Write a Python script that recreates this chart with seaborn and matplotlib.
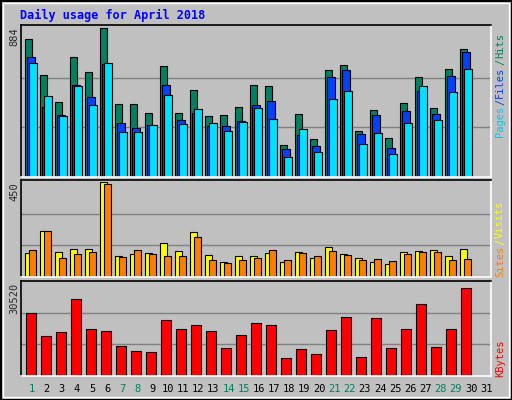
import matplotlib
matplotlib.use("Agg")
import matplotlib.pyplot as plt
import seaborn as sns
import numpy as np
import pandas as pd
from matplotlib.patches import Rectangle

sns.set_style("white")
plt.rcParams["font.family"] = ["DejaVu Sans Mono"]

days = list(range(1, 32))
weekend_days = [1, 7, 8, 14, 15, 21, 22, 28, 29]
hits = [818, 608, 446, 710, 620, 884, 434, 434, 380, 656, 380, 518, 362, 368, 416,
        548, 542, 188, 374, 224, 632, 662, 272, 398, 230, 440, 596, 410, 638, 758, 0]
files = [710, 416, 368, 548, 476, 668, 320, 290, 308, 548, 338, 380, 302, 302, 332,
         428, 452, 164, 248, 182, 596, 632, 254, 368, 170, 392, 512, 374, 602, 740, 0]
pages = [674, 482, 362, 542, 428, 674, 266, 266, 308, 488, 314, 404, 320, 272, 326,
         410, 344, 116, 284, 146, 464, 512, 194, 260, 134, 320, 542, 338, 506, 638, 0]
visits = [113, 220, 118, 133, 133, 449, 99, 109, 113, 162, 123, 211, 104, 70, 99,
          99, 113, 70, 118, 89, 143, 109, 89, 70, 60, 118, 123, 128, 99, 133, 0]
sites = [128, 220, 89, 109, 118, 439, 94, 128, 109, 99, 99, 191, 79, 65, 79,
         89, 128, 79, 113, 99, 123, 104, 79, 84, 75, 109, 118, 118, 79, 84, 0]
kbytes = [21830, 13810, 15150, 26850, 16150, 15480, 10470, 8800, 8470, 19490, 16150,
          17820, 15480, 9800, 14150, 18490, 17820, 6130, 9470, 7800, 15820, 20500,
          6460, 20160, 9800, 16150, 24840, 10140, 16150, 30520, 0]
max_hits, max_visits, max_kb = 884, 450, 30520

W, H = 512, 400
BG = "#C0C0C0"
fig = plt.figure(figsize=(W / 100, H / 100), dpi=100, facecolor=BG)

def px_axes(x0, y0, x1, y1):
    return fig.add_axes([x0 / W, 1 - y1 / H, (x1 - x0) / W, (y1 - y0) / H])

def style_ax(ax, top):
    ax.set_facecolor(BG)
    ax.set_xlim(-0.71, 30.62)
    ax.set_ylim(0, top)
    ax.set_xticks([])
    ax.set_yticks([])
    for s in ["left", "top"]:
        ax.spines[s].set_color("black")
    for s in ["right", "bottom"]:
        ax.spines[s].set_color("white")
    for sp in ax.spines.values():
        sp.set_linewidth(1.2)

x = np.arange(31)
ek = dict(edgecolor="black", linewidth=0.8)

# hits / files / pages
ax1 = px_axes(20.7, 25, 490.7, 177)
style_ax(ax1, max_hits * 1.02)
for g in (max_hits / 3, 2 * max_hits / 3):
    ax1.axhline(g, color="#808080", lw=1, zorder=0)
ax1.bar(x - 0.19, hits, width=0.47, color="#008060", **ek)
ax1.bar(x - 0.02, files, width=0.5, color="#0040FF", **ek)
ax1.bar(x + 0.11, pages, width=0.5, color="#00E0FF", **ek)

# visits / sites
ax2 = px_axes(20.7, 180, 490.7, 277)
style_ax(ax2, max_visits * 1.02)
for g in (max_visits / 3, 2 * max_visits / 3):
    ax2.axhline(g, color="#808080", lw=1, zorder=0)
ax2.bar(x - 0.17, visits, width=0.47, color="#FFFF00", **ek)
ax2.bar(x + 0.1, sites, width=0.47, color="#FF8000", **ek)

# kbytes
ax3 = px_axes(20.7, 281, 490.7, 376)
df = pd.DataFrame({"day": x, "kb": kbytes})
sns.barplot(data=df, x="day", y="kb", ax=ax3, native_scale=True, width=0.67,
            color="#FF0000", saturation=1, **ek)
style_ax(ax3, max_kb * 1.08)
ax3.set_xlabel("")
ax3.set_ylabel("")
for g in (max_kb * 0.36, max_kb * 0.72):
    ax3.axhline(g, color="#808080", lw=1, zorder=0)

# day labels
for i, d in enumerate(days):
    fig.text((20.7 + (i + 0.71) * 15.16) / W, 1 - 389 / H, str(d), ha="center",
             va="center", fontsize=7.5,
             color="#008060" if d in weekend_days else "black")

# y max labels
for val, ytop in (("884", 27), ("450", 182), ("30520", 283)):
    fig.text(14 / W, 1 - ytop / H, val, rotation=90, ha="center", va="top", fontsize=7.5)

# right side legends, stacked bottom-up using measured extents
renderer = fig.canvas.get_renderer()

def stacked(parts, ybottom):
    y = ybottom
    for t, c in parts:
        tx = fig.text(500 / W, 1 - y / H, t, rotation=90, ha="center", va="bottom",
                      fontsize=7.5, color=c)
        y -= tx.get_window_extent(renderer).height + 1

stacked([("Pages", "#00C8E8"), ("/", "#0040FF"), ("Files", "#0040FF"),
         ("/", "#008060"), ("Hits", "#008060")], 137)
stacked([("Sites", "#FF8000"), ("/", "#FFFF00"), ("Visits", "#FFFF00")], 277)
stacked([("KBytes", "#FF0000")], 377)

fig.text(20 / W, 1 - 15 / H, "Daily usage for April 2018", color="#0000FF",
         fontsize=8.5, fontweight="bold", va="center")

# bevelled border
fig.patches.append(Rectangle((0.5 / W, 0.5 / H), 1 - 1 / W, 1 - 1 / H,
                             transform=fig.transFigure, fill=False, ec="black", lw=1.5))
fig.patches.append(Rectangle((3 / W, 3 / H), 1 - 6 / W, 1 - 6 / H,
                             transform=fig.transFigure, fill=False, ec="white", lw=1))

fig.savefig("out.png", dpi=100, facecolor=BG)
